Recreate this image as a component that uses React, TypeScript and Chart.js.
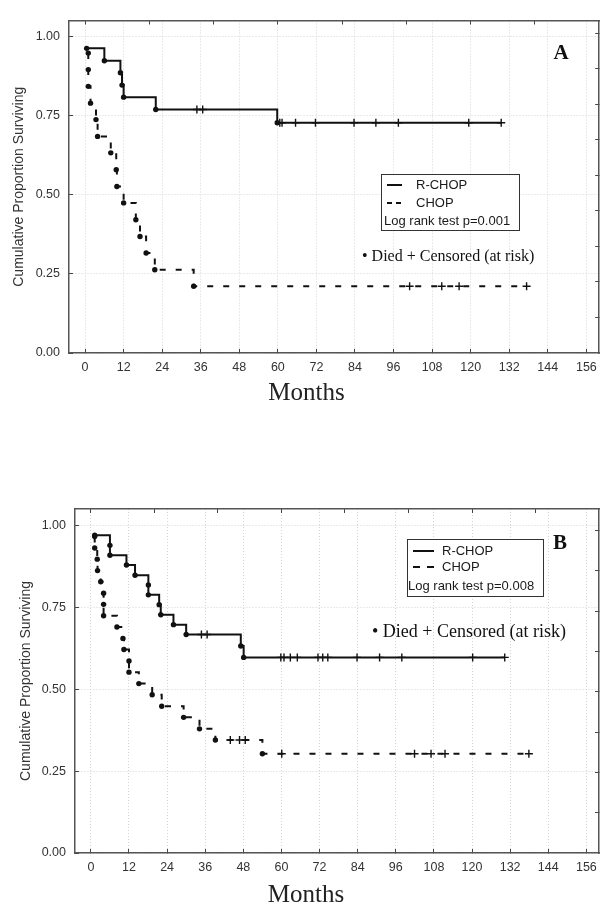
import React, { useEffect, useRef } from 'react';
import { Chart, registerables } from 'chart.js';

Chart.register(...registerables);

// ---------- shared labels / ticks ----------
const monthTicks = [0, 12, 24, 36, 48, 60, 72, 84, 96, 108, 120, 132, 144, 156];
const topTicks = [0, 20, 40, 60, 80, 100, 120, 140];
const survivalTicks = [0, 0.25, 0.5, 0.75, 1.0];
const seriesNames = ['R-CHOP', 'CHOP'];
const xTitle = 'Months';
const yTitle = 'Cumulative Proportion Surviving';
const noteText = '\u2022 Died + Censored (at risk)';
const pValueA = 'Log rank test p=0.001';
const pValueB = 'Log rank test p=0.008';

// ---------- Panel A ----------
const aRchopDeathMonths = [0.5, 6, 11, 11.5, 12, 22, 59.8];
const aRchopDeathSurv = [0.962, 0.923, 0.885, 0.846, 0.808, 0.769, 0.727];
const aRchopCensMonths = [34.8, 36.6, 60.6, 61.3, 65.5, 71.7, 83.7, 90.5, 97.5, 119.4, 129.5];
const aRchopCensSurv = [0.769, 0.769, 0.727, 0.727, 0.727, 0.727, 0.727, 0.727, 0.727, 0.727, 0.727];

const aChopDeathMonths = [1, 1, 1, 1.7, 3.4, 3.9, 8, 9.7, 9.9, 12, 15.8, 17.1, 19, 21.7, 33.8];
const aChopDeathSurv = [0.947, 0.895, 0.842, 0.789, 0.737, 0.684, 0.632, 0.579, 0.526, 0.474, 0.421, 0.368, 0.316, 0.263, 0.211];
const aChopCensMonths = [101, 111, 116.4, 137.4];
const aChopCensSurv = [0.211, 0.211, 0.211, 0.211];

// ---------- Panel B ----------
const bRchopDeathMonths = [1.2, 6, 6, 11.2, 13.9, 18.1, 18.1, 21.5, 22, 26, 30, 47.2, 48.1];
const bRchopDeathSurv = [0.970, 0.939, 0.909, 0.879, 0.848, 0.818, 0.788, 0.758, 0.727, 0.697, 0.667, 0.632, 0.597];
const bRchopCensMonths = [34.8, 36.6, 59.8, 60.8, 62.8, 65, 71.5, 73, 74.6, 83.8, 90.9, 97.9, 120.2, 130.3];
const bRchopCensSurv = [0.667, 0.667, 0.597, 0.597, 0.597, 0.597, 0.597, 0.597, 0.597, 0.597, 0.597, 0.597, 0.597, 0.597];

const bChopDeathMonths = [1.2, 1.2, 2, 2.1, 3.1, 4, 4, 4, 8.2, 10.1, 10.4, 12, 12, 15.1, 19.3, 22.3, 29.2, 34.2, 39.2, 54];
const bChopDeathSurv = [0.966, 0.931, 0.897, 0.862, 0.828, 0.793, 0.759, 0.724, 0.690, 0.655, 0.621, 0.586, 0.552, 0.517, 0.483, 0.448, 0.414, 0.379, 0.345, 0.303];
const bChopCensMonths = [43.9, 46.8, 48.6, 60.1, 101.9, 107.1, 111.5, 137.9];
const bChopCensSurv = [0.345, 0.345, 0.345, 0.303, 0.303, 0.303, 0.303, 0.303];

type P = { x: number; y: number };
const pts = (xs: number[], ys: number[]): P[] => xs.map((x, i) => ({ x, y: ys[i] }));
function stepPath(deaths: P[], cens: P[]): P[] {
  return [
    ...deaths.map((p) => ({ ...p, k: 0 })),
    ...cens.map((p) => ({ ...p, k: 1 })),
  ]
    .sort((a, b) => a.x - b.x || a.k - b.k)
    .map(({ x, y }) => ({ x, y }));
}

const SANS = '"Liberation Sans", Arial, sans-serif';
const SERIF = '"Liberation Serif", "Times New Roman", serif';
const INK = '#111';

const annotPlugin = {
  id: 'kmAnnot',
  afterDraw(chart: any, _args: any, o: any) {
    const ctx = chart.ctx as CanvasRenderingContext2D;
    ctx.save();
    // panel letter
    ctx.fillStyle = INK;
    ctx.textAlign = 'center';
    ctx.textBaseline = 'middle';
    ctx.font = `bold ${o.letterSize}px ${SERIF}`;
    ctx.fillText(o.letter, o.letterX, o.letterY);

    // legend box
    const b = o.box;
    ctx.fillStyle = '#fff';
    ctx.fillRect(b.x, b.y, b.w, b.h);
    ctx.strokeStyle = '#333';
    ctx.lineWidth = 1;
    ctx.strokeRect(b.x + 0.5, b.y + 0.5, b.w, b.h);

    ctx.strokeStyle = INK;
    ctx.lineWidth = 2;
    ctx.setLineDash([]);
    ctx.beginPath();
    ctx.moveTo(o.lineX0, o.row1);
    ctx.lineTo(o.lineX1, o.row1);
    ctx.stroke();
    ctx.setLineDash(o.legendDash);
    ctx.beginPath();
    ctx.moveTo(o.lineX0, o.row2);
    ctx.lineTo(o.lineX1, o.row2);
    ctx.stroke();
    ctx.setLineDash([]);

    ctx.fillStyle = '#1a1a1a';
    ctx.textAlign = 'left';
    ctx.textBaseline = 'middle';
    ctx.font = `${o.legendSize}px ${SANS}`;
    ctx.fillText(seriesNames[0], o.textX, o.row1);
    ctx.fillText(seriesNames[1], o.textX, o.row2);
    ctx.fillText(o.pText, o.pX, o.row3);

    // note
    ctx.fillStyle = INK;
    ctx.font = `${o.noteSize}px ${SERIF}`;
    ctx.fillText(noteText, o.noteX, o.noteY);
    ctx.restore();
  },
};

type PanelCfg = {
  height: number;
  padTop: number;
  padRight: number;
  padLeft: number;
  yWidth: number;
  yTitlePad: number;
  xHeight: number;
  titlePadBottom: number;
  rightStep: number;
  rchopDeath: P[];
  rchopCens: P[];
  chopDeath: P[];
  chopCens: P[];
  annot: any;
};

const tickFont = { family: SANS, size: 12.5 };
const TICK_COLOR = '#333';

function makeConfig(c: PanelCfg): any {
  const rightTicks: number[] = [];
  for (let v = c.rightStep; v < 1.04; v += c.rightStep) rightTicks.push(v);
  const dotStyle = {
    showLine: false,
    pointRadius: 2.7,
    pointStyle: 'circle',
    pointBackgroundColor: INK,
    pointBorderWidth: 0,
    borderColor: INK,
  };
  const crossStyle = {
    showLine: false,
    pointRadius: 4,
    pointStyle: 'cross',
    pointBorderColor: INK,
    pointBorderWidth: 1.4,
    borderColor: INK,
  };
  return {
    type: 'line',
    data: {
      datasets: [
        {
          label: seriesNames[0],
          data: stepPath(c.rchopDeath, c.rchopCens),
          stepped: true,
          borderColor: INK,
          borderWidth: 2,
          pointRadius: 0,
          fill: false,
        },
        {
          label: seriesNames[1],
          data: stepPath(c.chopDeath, c.chopCens),
          stepped: true,
          borderColor: INK,
          borderWidth: 2,
          borderDash: [6, 10],
          pointRadius: 0,
          fill: false,
        },
        { label: 'R-CHOP died', data: c.rchopDeath, ...dotStyle },
        { label: 'CHOP died', data: c.chopDeath, ...dotStyle },
        { label: 'R-CHOP censored', data: c.rchopCens, ...crossStyle },
        { label: 'CHOP censored', data: c.chopCens, ...crossStyle },
      ],
    },
    options: {
      responsive: false,
      maintainAspectRatio: false,
      animation: false,
      events: [],
      layout: { padding: { top: c.padTop, right: c.padRight, left: c.padLeft, bottom: 0 } },
      plugins: {
        legend: { display: false },
        tooltip: { enabled: false },
        title: {
          display: true,
          text: xTitle,
          position: 'bottom',
          color: '#222',
          font: { family: SERIF, size: 25, weight: 'normal' },
          padding: { top: 0, bottom: c.titlePadBottom },
        },
        kmAnnot: c.annot,
      },
      scales: {
        x: {
          type: 'linear',
          position: 'bottom',
          min: -5,
          max: 160,
          afterBuildTicks: (s: any) => {
            s.ticks = monthTicks.map((v) => ({ value: v }));
          },
          afterFit: (s: any) => {
            s.height = c.xHeight;
          },
          ticks: {
            font: tickFont,
            color: TICK_COLOR,
            padding: 11,
            maxRotation: 0,
            autoSkip: false,
            callback: (v: any) => String(v),
          },
          grid: { color: '#d4d4d4', lineWidth: 1, tickLength: -4, tickColor: '#444', tickWidth: 1 },
          border: { color: '#555', width: 1.5, dash: [1, 2] },
        },
        x2: {
          type: 'linear',
          position: 'top',
          min: -5,
          max: 160,
          afterBuildTicks: (s: any) => {
            s.ticks = topTicks.map((v) => ({ value: v }));
          },
          afterFit: (s: any) => {
            s.height = 0;
          },
          ticks: { display: false },
          grid: { drawOnChartArea: false, tickLength: -4, tickColor: '#444', tickWidth: 1 },
          border: { color: '#555', width: 1.5 },
        },
        y: {
          type: 'linear',
          position: 'left',
          min: 0,
          max: 1.05,
          afterBuildTicks: (s: any) => {
            s.ticks = survivalTicks.map((v) => ({ value: v }));
          },
          afterFit: (s: any) => {
            s.width = c.yWidth;
          },
          ticks: {
            font: tickFont,
            color: TICK_COLOR,
            padding: 13,
            callback: (v: any) => Number(v).toFixed(2),
          },
          title: {
            display: true,
            text: yTitle,
            color: '#333',
            font: { family: SANS, size: 14 },
            padding: { top: c.yTitlePad, bottom: 0 },
          },
          grid: { color: '#d4d4d4', lineWidth: 1, tickLength: -4, tickColor: '#444', tickWidth: 1 },
          border: { color: '#555', width: 1.5, dash: [1, 2] },
        },
        y2: {
          type: 'linear',
          position: 'right',
          min: 0,
          max: 1.05,
          afterBuildTicks: (s: any) => {
            s.ticks = rightTicks.map((v) => ({ value: v }));
          },
          afterFit: (s: any) => {
            s.width = 0;
          },
          ticks: { display: false },
          grid: { drawOnChartArea: false, tickLength: -4, tickColor: '#444', tickWidth: 1 },
          border: { color: '#555', width: 1.5 },
        },
      },
    },
    plugins: [annotPlugin],
  };
}

const panelA: PanelCfg = {
  height: 420,
  padTop: 10,
  padRight: 5,
  padLeft: 10,
  yWidth: 59,
  yTitlePad: 1,
  xHeight: 25,
  titlePadBottom: 12,
  rightStep: 0.1122,
  rchopDeath: pts(aRchopDeathMonths, aRchopDeathSurv),
  rchopCens: pts(aRchopCensMonths, aRchopCensSurv),
  chopDeath: pts(aChopDeathMonths, aChopDeathSurv),
  chopCens: pts(aChopCensMonths, aChopCensSurv),
  annot: {
    letter: 'A',
    letterSize: 21,
    letterX: 561,
    letterY: 54,
    box: { x: 381, y: 174, w: 138, h: 56 },
    lineX0: 387,
    lineX1: 402,
    legendDash: [5, 4],
    textX: 416,
    row1: 185,
    row2: 203,
    row3: 221,
    pX: 384,
    pText: pValueA,
    legendSize: 13,
    noteX: 362,
    noteY: 257,
    noteSize: 16,
  },
};

const B_TOP = 456;
const panelB: PanelCfg = {
  height: 456,
  padTop: 53,
  padRight: 6,
  padLeft: 10,
  yWidth: 65,
  yTitlePad: 8,
  xHeight: 27,
  titlePadBottom: 2,
  rightStep: 0.123,
  rchopDeath: pts(bRchopDeathMonths, bRchopDeathSurv),
  rchopCens: pts(bRchopCensMonths, bRchopCensSurv),
  chopDeath: pts(bChopDeathMonths, bChopDeathSurv),
  chopCens: pts(bChopCensMonths, bChopCensSurv),
  annot: {
    letter: 'B',
    letterSize: 21,
    letterX: 560,
    letterY: 544 - B_TOP,
    box: { x: 407, y: 539 - B_TOP, w: 136, h: 57 },
    lineX0: 413,
    lineX1: 434,
    legendDash: [7, 7],
    textX: 442,
    row1: 551 - B_TOP,
    row2: 567 - B_TOP,
    row3: 586 - B_TOP,
    pX: 408,
    pText: pValueB,
    legendSize: 13,
    noteX: 372,
    noteY: 632 - B_TOP,
    noteSize: 18,
  },
};

function Panel({ cfg, top }: { cfg: PanelCfg; top: number }) {
  const ref = useRef<HTMLCanvasElement | null>(null);
  useEffect(() => {
    if (!ref.current) return;
    const chart = new Chart(ref.current, makeConfig(cfg));
    return () => chart.destroy();
  }, [cfg]);
  return (
    <canvas
      ref={ref}
      width={608}
      height={cfg.height}
      style={{ position: 'absolute', left: 0, top, width: 608, height: cfg.height, display: 'block' }}
    />
  );
}

export default function App() {
  return (
    <div style={{ position: 'absolute', left: 0, top: 0, width: 608, height: 912, background: '#fff', overflow: 'hidden' }}>
      <Panel cfg={panelA} top={0} />
      <Panel cfg={panelB} top={B_TOP} />
    </div>
  );
}
